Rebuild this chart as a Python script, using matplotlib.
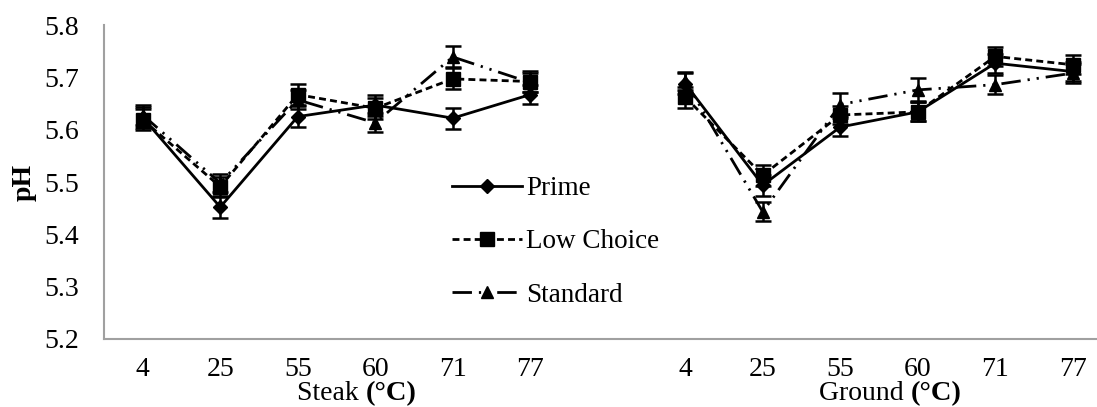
import numpy as np
import matplotlib
matplotlib.use("Agg")
import matplotlib.pyplot as plt

plt.rcParams['font.family'] = ['Liberation Serif', 'DejaVu Serif']

# categories (temperature, °C) for each product
temps = ["4", "25", "55", "60", "71", "77"]

# Steak pH
steak_prime = [5.623, 5.452, 5.625, 5.647, 5.622, 5.667]
steak_low_choice = [5.619, 5.491, 5.667, 5.641, 5.697, 5.692]
steak_standard = [5.628, 5.498, 5.657, 5.613, 5.739, 5.690]
steak_prime_err = [0.020, 0.020, 0.020, 0.020, 0.020, 0.018]
steak_low_choice_err = [0.020, 0.018, 0.020, 0.020, 0.020, 0.020]
steak_standard_err = [0.020, 0.018, 0.018, 0.018, 0.020, 0.018]

# Ground pH
ground_prime = [5.688, 5.494, 5.605, 5.634, 5.727, 5.711]
ground_low_choice = [5.662, 5.513, 5.628, 5.634, 5.740, 5.724]
ground_standard = [5.693, 5.443, 5.648, 5.676, 5.686, 5.708]
ground_prime_err = [0.020, 0.020, 0.018, 0.018, 0.018, 0.018]
ground_low_choice_err = [0.020, 0.020, 0.018, 0.018, 0.018, 0.018]
ground_standard_err = [0.018, 0.018, 0.022, 0.022, 0.018, 0.018]

W, H = 1097, 407
fig = plt.figure(figsize=(W / 100, H / 100), dpi=100)
ax = fig.add_axes([104 / W, (H - 339) / H, 13 * 77.5 / W, 314 / H])

x_steak = np.arange(6)
x_ground = np.arange(6) + 7

styles = {
    "Prime": dict(ls='-', marker='D', ms=7),
    "Low Choice": dict(ls=(0, (2.5, 1.5)), marker='s', ms=10),
    "Standard": dict(ls=(0, (7, 2.5, 0.8, 2.5, 0.8, 2.5)), marker='^', ms=9),
}

series = [
    ("Prime", steak_prime, steak_prime_err, ground_prime, ground_prime_err),
    ("Low Choice", steak_low_choice, steak_low_choice_err, ground_low_choice, ground_low_choice_err),
    ("Standard", steak_standard, steak_standard_err, ground_standard, ground_standard_err),
]

handles = []
for name, sv, se, gv, ge in series:
    st = styles[name]
    for xs, vals, errs, lab in [(x_steak, sv, se, name), (x_ground, gv, ge, None)]:
        h = ax.errorbar(xs, vals, yerr=errs, color='black', lw=2.0, ls=st['ls'],
                        marker=st['marker'], ms=st['ms'], mfc='black', mec='black',
                        ecolor='black', elinewidth=1.8, capsize=5.5, capthick=1.8,
                        label=lab)
        h[-1][0].set_linestyle('-')
        if lab:
            handles.append(h)

ax.set_xlim(-0.5, 12.5)
ax.set_ylim(5.2, 5.8)
ax.set_yticks(np.arange(5.2, 5.81, 0.1))
ax.set_yticklabels([f"{v:.1f}" for v in np.arange(5.2, 5.81, 0.1)])
ax.set_xticks(np.concatenate([x_steak, x_ground]))
ax.set_xticklabels(temps + temps)
ax.tick_params(axis='both', length=0, labelsize=20)
ax.tick_params(axis='x', pad=13)
ax.tick_params(axis='y', pad=18)

for s in ['top', 'right']:
    ax.spines[s].set_visible(False)
for s in ['left', 'bottom']:
    ax.spines[s].set_color('#a0a0a0')
    ax.spines[s].set_linewidth(1.5)

# axis titles
fig.text(24 / W, 1 - 182 / H, "pH", rotation=90, fontsize=20, fontweight='bold',
         ha='center', va='center')
fig.text(366 / W, 1 - 394 / H, "Steak ", fontsize=20, ha='right', va='center')
fig.text(366 / W, 1 - 394 / H, "(°C)", fontsize=20.5, fontweight='bold', ha='left', va='center')
fig.text(911 / W, 1 - 394 / H, "Ground ", fontsize=20, ha='right', va='center')
fig.text(911 / W, 1 - 394 / H, "(°C)", fontsize=20.5, fontweight='bold', ha='left', va='center')

leg = fig.legend(handles=[h.lines[0] for h in handles],
                 labels=[s[0] for s in series],
                 loc='upper left', bbox_to_anchor=(452 / W, 1 - 176 / H),
                 frameon=False, fontsize=19.5, handlelength=2.6,
                 handletextpad=0.15, labelspacing=1.05, borderpad=0,
                 borderaxespad=0)

fig.savefig("out.png", dpi=100)
